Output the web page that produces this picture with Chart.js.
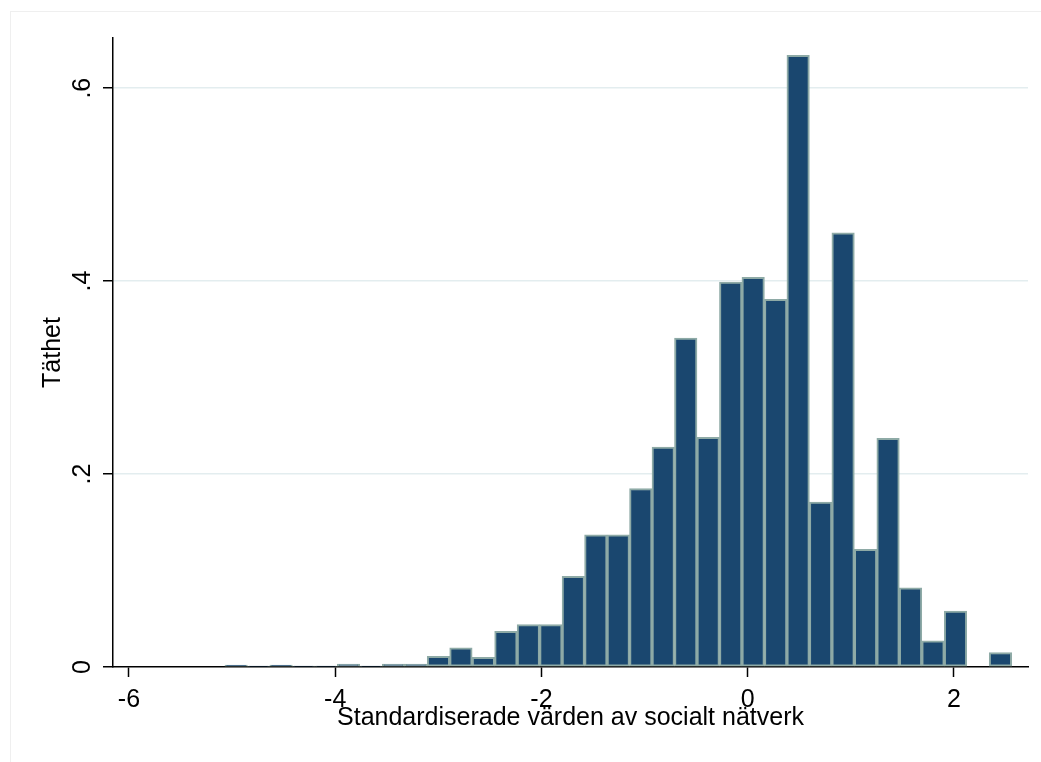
<!DOCTYPE html>
<html lang="sv">
<head>
<meta charset="utf-8">
<title>Täthet – standardiserade värden av socialt nätverk</title>
<style>
  html, body { margin: 0; padding: 0; background: #ffffff; }
  #wrap { position: relative; width: 1041px; height: 762px; }
  #frame { position: absolute; left: 10px; top: 11px; right: 0; bottom: 0;
           border-top: 1px solid #efefef; border-left: 1px solid #efefef; pointer-events: none; }
  canvas { position: absolute; left: 0; top: 0; }
</style>
</head>
<body>
<div id="wrap">
  <canvas id="histChart" width="1041" height="762"></canvas>
  <div id="frame"></div>
</div>

<script src="https://cdn.jsdelivr.net/npm/chart.js@4/dist/chart.umd.min.js"></script>
<script>
// bin centres (width ~0.218) and density per bin
const binCenters = [
  -4.961, -4.743, -4.525, -4.307, -4.089, -3.871, -3.653, -3.435, -3.217, -2.999,
  -2.781, -2.563, -2.345, -2.127, -1.909, -1.691, -1.473, -1.255, -1.037, -0.819,
  -0.601, -0.383, -0.165, 0.053, 0.271, 0.489, 0.707, 0.925, 1.143, 1.361,
  1.579, 1.797, 2.015, 2.233, 2.451
];
const densities = [
  0.002, 0.001, 0.002, 0.001, 0.001, 0.003, 0.001, 0.003, 0.003, 0.011,
  0.020, 0.010, 0.037, 0.044, 0.044, 0.094, 0.137, 0.137, 0.185, 0.228,
  0.341, 0.238, 0.399, 0.404, 0.381, 0.634, 0.171, 0.450, 0.122, 0.237,
  0.082, 0.027, 0.058, 0, 0.015
];
const xTickValues = [-6, -4, -2, 0, 2];
const xTickLabels = ['-6', '-4', '-2', '0', '2'];
const yTickValues = [0, 0.2, 0.4, 0.6];
const yTickLabels = ['0', '.2', '.4', '.6'];

const xTitle = 'Standardiserade värden av socialt nätverk';
const yTitle = 'Täthet';

function setupChart(){
    const ctx = document.getElementById('histChart').getContext('2d');
    const fontFamily = '"Liberation Sans", Arial, Helvetica, sans-serif';

    const config = {
        type: 'bar',
        data: {
            datasets: [{
                label: yTitle,
                data: binCenters.map((x, i) => ({x: x, y: densities[i]})),
                backgroundColor: 'rgb(26, 71, 111)',
                borderColor: 'rgb(142, 170, 166)',
                borderWidth: 2,
                borderSkipped: false,
                barPercentage: 1,
                categoryPercentage: 1
            }]
        },
        options: {
            responsive: false,
            animation: false,
            layout: {
                padding: {left: 40.5, top: 38, right: 13, bottom: 40.5}
            },
            plugins: {
                legend: {display: false},
                tooltip: {enabled: false}
            },
            scales: {
                x: {
                    type: 'linear',
                    offset: false,
                    min: -6.155,
                    max: 2.718,
                    afterBuildTicks: (scale) => {
                        scale.ticks = xTickValues.map(v => ({value: v}));
                    },
                    // pin the axis band so the plot bottom lands where the original has it
                    afterFit: (scale) => { scale.height = 54.5; },
                    ticks: {
                        color: '#000000',
                        padding: 11,
                        autoSkip: false,
                        maxRotation: 0,
                        font: {family: fontFamily, size: 25, lineHeight: 1},
                        callback: (value) => xTickLabels[xTickValues.indexOf(value)]
                    },
                    grid: {
                        offset: false,
                        drawOnChartArea: false,
                        drawTicks: true,
                        tickLength: 10,
                        tickColor: '#000000',
                        tickWidth: 1.5
                    },
                    border: {display: true, color: '#000000', width: 1.5},
                    title: {
                        display: true,
                        text: xTitle,
                        color: '#000000',
                        padding: {top: 0, bottom: 0},
                        font: {family: fontFamily, size: 25, lineHeight: 0.24}
                    }
                },
                y: {
                    type: 'linear',
                    min: 0,
                    max: 0.652,
                    afterBuildTicks: (scale) => {
                        scale.ticks = yTickValues.map(v => ({value: v}));
                    },
                    afterFit: (scale) => { scale.width = 72.5; },
                    ticks: {
                        color: '#000000',
                        padding: 9,
                        minRotation: 90,
                        maxRotation: 90,
                        crossAlign: 'center',
                        font: {family: fontFamily, size: 25, lineHeight: 1},
                        callback: (value) => yTickLabels[yTickValues.indexOf(value)]
                    },
                    grid: {
                        color: (c) => (c.tick && c.tick.value === 0) ? 'rgba(0,0,0,0)' : '#e3edef',
                        lineWidth: 1.5,
                        drawTicks: true,
                        tickLength: 10,
                        tickColor: '#000000',
                        tickWidth: 1.5
                    },
                    border: {display: true, color: '#000000', width: 1.5},
                    title: {
                        display: true,
                        text: yTitle,
                        color: '#000000',
                        padding: {top: 0, bottom: 0},
                        font: {family: fontFamily, size: 25, lineHeight: 1}
                    }
                }
            }
        }
    };

    window.histChart = new Chart(ctx, config);
}

setupChart();
</script>
</body>
</html>
